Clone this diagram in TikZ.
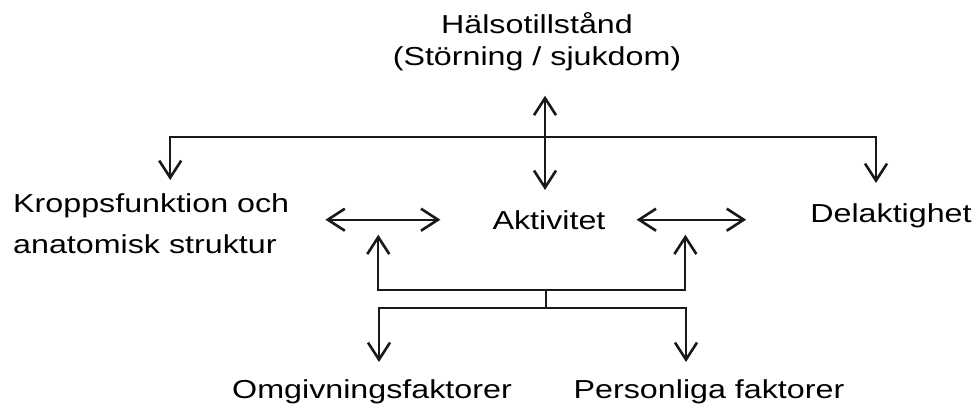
\documentclass[tikz,border=0pt]{standalone}
\usepackage{fontspec}
\setmainfont{Liberation Sans}[FakeStretch=1.24]
\usetikzlibrary{arrows.meta,calc}
\tikzset{
  lbl/.style={inner sep=0pt, font=\fontsize{26}{32}\selectfont, text=black},
  link/.style={line width=2pt, draw=black!90},
  oneway/.style={link, -{Straight Barb[length=17pt, width=22pt, line width=2.6pt]}},
  twoway/.style={link, {Straight Barb[length=17pt, width=22pt, line width=2.6pt]}-{Straight Barb[length=17pt, width=22pt, line width=2.6pt]}},
}
\begin{document}
\begin{tikzpicture}[x=1pt, y=-1pt]
  \useasboundingbox (0,0) rectangle (976,412);
  % components
  \node[lbl, align=center, anchor=north] (hals) at (537,12) {Hälsotillstånd\\(Störning / sjukdom)};
  \node[lbl, align=left, anchor=north west, font=\fontsize{26}{41}\selectfont] (kropp) at (13,193)
    {Kroppsfunktion och\\anatomisk struktur};
  \node[lbl, anchor=base] (akt) at (549,229) {Aktivitet};
  \node[lbl, anchor=base] (del) at (891,222) {Delaktighet};
  \node[lbl, anchor=base] (omg) at (372,398) {Omgivningsfaktorer};
  \node[lbl, anchor=base] (pers) at (709,398) {Personliga faktorer};
  % branch points
  \coordinate (hub) at (545,137);
  \coordinate (mid) at (546,290);
  \coordinate (split) at (546,308);
  % upper part
  \draw[twoway] ([yshift=-25pt]hals.south -| hub) -- ([yshift=20pt]akt.north -| hub);
  \draw[oneway] (hub) -| ([shift={(19pt,13pt)}]kropp.north);
  \draw[oneway] (hub) -| ([shift={(-15pt,20pt)}]del.north);
  % middle row
  \draw[twoway] ([xshift=36pt]kropp.east |- akt.west) -- coordinate[pos=0.46] (kaMid) ([xshift=-52pt]akt.west);
  \draw[twoway] ([xshift=31pt]akt.east) -- coordinate[pos=0.445] (adMid) ([xshift=-64pt]del.west |- akt.east);
  % contextual factors
  \draw[oneway] (mid) -| ([yshift=-15pt]kaMid);
  \draw[oneway] (mid) -| ([yshift=-15pt]adMid);
  \draw[link] (mid) -- (split);
  \draw[oneway] (split) -| ([shift={(7pt,17pt)}]omg.north);
  \draw[oneway] (split) -| ([shift={(-23pt,17pt)}]pers.north);
\end{tikzpicture}
\end{document}
